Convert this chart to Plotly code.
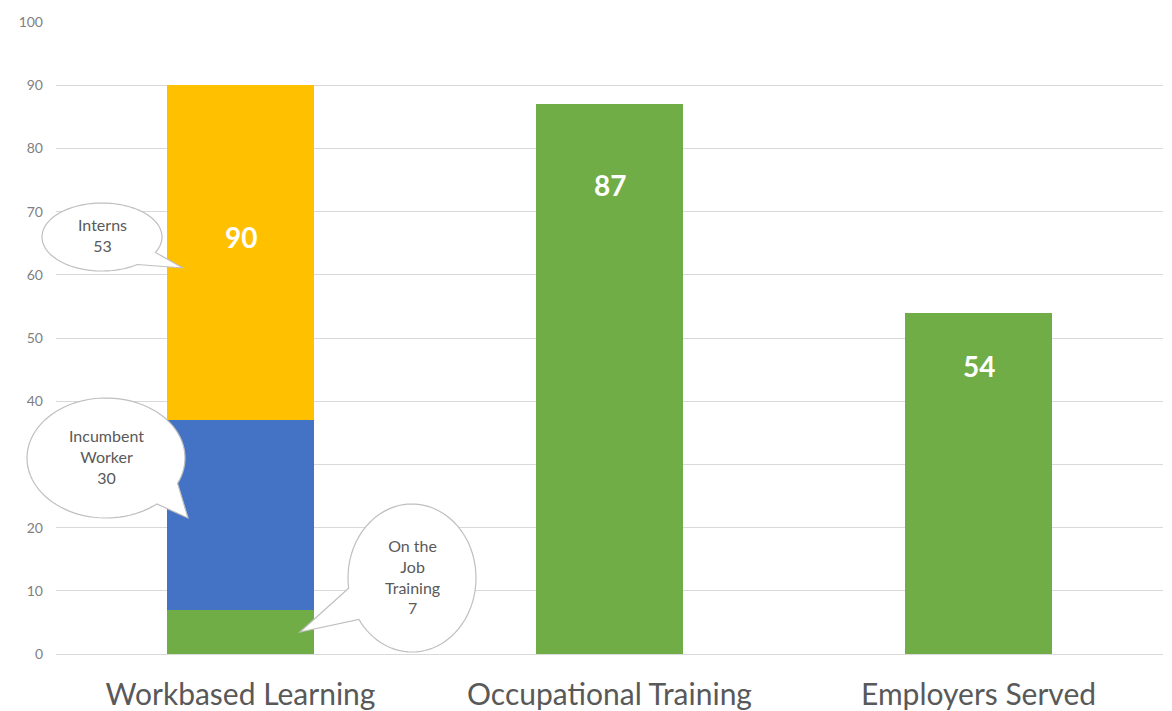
import numpy as np
import plotly.graph_objects as go

# data
categories = ["Workbased Learning", "Occupational Training", "Employers Served"]
ojt = [7, 0, 0]
incumbent = [30, 0, 0]
interns = [53, 0, 0]
other = [0, 87, 54]
totals = [90, 87, 54]

GREEN = "#70ad47"
BLUE = "#4472c4"
ORANGE = "#ffc000"

# page has an 8px body margin, so the figure sits at (8, 8)
OFF = 8
W, H = 1172, 711
ML, MR, MT, MB = 48, 17, 14, 65


def px_to_paper(px, py):
    # page pixels -> paper coords of the plot area
    pw = W - ML - MR
    ph = H - MT - MB
    return (px - OFF - ML) / pw, (H - MB - (py - OFF)) / ph


def bubble_path(cx, cy, rx, ry, a1, a2, tip):
    # ellipse with a speech tail between angles a1..a2 (degrees, y down)
    a1r, a2r = np.radians(a1), np.radians(a2)
    ts = np.linspace(a2r, a1r + 2 * np.pi, 90)
    pts = [(cx + rx * np.cos(t), cy + ry * np.sin(t)) for t in ts]
    pts.append(tip)
    d = []
    for i, (px, py) in enumerate(pts):
        x, y = px_to_paper(px, py)
        d.append(("M" if i == 0 else "L") + f"{x:.5f},{y:.5f}")
    return " ".join(d) + " Z"


fig = go.Figure()
xs = list(range(len(categories)))
for vals, col in [(ojt, GREEN), (incumbent, BLUE), (interns, ORANGE), (other, GREEN)]:
    fig.add_trace(go.Bar(x=xs, y=vals, marker=dict(color=col, line_width=0),
                         width=0.4, showlegend=False, hoverinfo="skip"))

# total labels inside the bars
label_drop = [24, 12.8, 8.4]
for i, t in enumerate(totals):
    fig.add_annotation(x=i, y=t - label_drop[i], text=f"<b>{t}</b>", showarrow=False,
                       font=dict(family="Lato", size=28, color="white"))

# callouts
bubbles = [
    (102, 237, 60, 34, 27, 54, (183, 268), ["Interns", "53"]),
    (106, 458, 79, 60, 25, 50, (188, 518), ["Incumbent", "Worker", "30"]),
    (412, 578, 64, 74, 146, 172, (300, 632), ["On the", "Job", "Training", "7"]),
]
for cx, cy, rx, ry, a1, a2, tip, lines in bubbles:
    fig.add_shape(type="path", path=bubble_path(cx, cy, rx, ry, a1, a2, tip),
                  xref="paper", yref="paper", fillcolor="white",
                  line=dict(color="#bfbfbf", width=1.2), layer="above")
    tx, ty = px_to_paper(cx, cy - 2)
    fig.add_annotation(x=tx, y=ty, xref="paper", yref="paper",
                       xanchor="center", yanchor="middle",
                       text="<br>".join(lines), showarrow=False,
                       font=dict(family="Lato", size=16, color="#595959"))

fig.update_layout(
    width=W, height=H,
    margin=dict(l=ML, r=MR, t=MT, b=MB, autoexpand=False),
    barmode="stack",
    plot_bgcolor="white",
    paper_bgcolor="white",
    font=dict(family="Lato"),
)
fig.update_xaxes(range=[-0.5, 2.5], tickvals=xs, ticktext=categories,
                 tickfont=dict(size=30, color="#595959"), showgrid=False,
                 ticklen=0, ticklabelstandoff=20, automargin=False)
fig.update_yaxes(range=[0, 100], dtick=10, showgrid=True, gridcolor="#d9d9d9",
                 zeroline=True, zerolinecolor="#d9d9d9", zerolinewidth=1,
                 tickfont=dict(size=14, color="#7f7f7f"), ticklabelstandoff=12,
                 automargin=False)

fig.write_html("out.html")
